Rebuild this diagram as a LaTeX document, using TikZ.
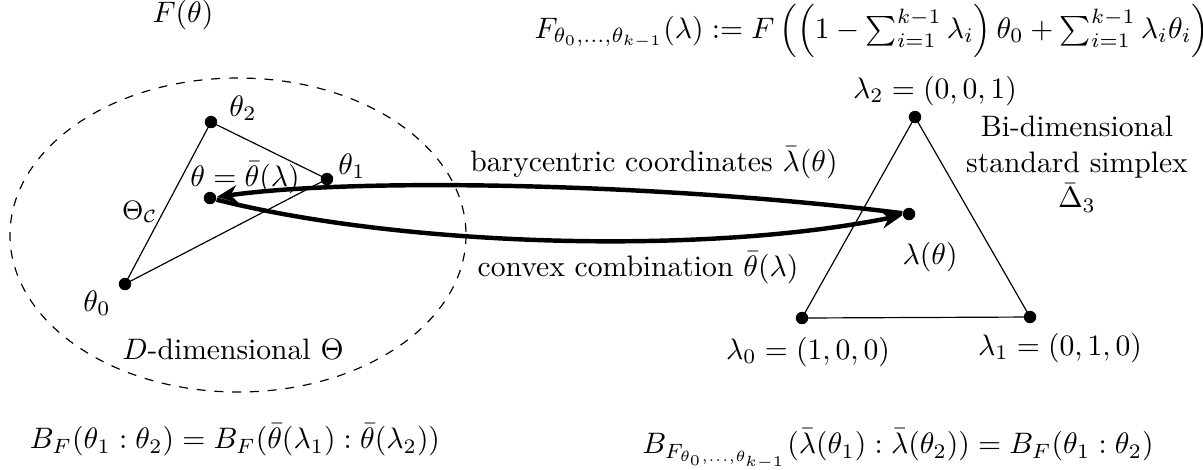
\documentclass[tikz,border=0pt]{standalone}
\usetikzlibrary{arrows.meta}
\begin{document}
\begin{tikzpicture}[x=0.3378pt,y=-0.3378pt,
  dot/.style={circle,fill=black,inner sep=0pt,minimum size=4.2pt},
  lbl/.style={inner sep=0pt},
  edge/.style={line width=0.4pt},
  arr/.style={line width=1.5pt,-{Stealth[length=7pt,width=6pt]}}]
\useasboundingbox (0,0) rectangle (1203,469);
% ellipse
\draw[dashed] (238,235) ellipse [x radius=228, y radius=157];
% left dots
\node[dot] (t0) at (125,284) {};
\node[dot] (t1) at (327,179) {};
\node[dot] (t2) at (211,122) {};
\node[dot] (th) at (210,198) {};
\draw[edge] (t0.center) -- (t2.center) -- (t1.center) -- (t0.center);
% right dots
\node[dot] (l0) at (802,318) {};
\node[dot] (l1) at (1030,317) {};
\node[dot] (l2) at (915,117) {};
\node[dot] (lam) at (909,214) {};
\draw[edge] (l0.center) -- (l2.center) -- (l1.center) -- (l0.center);
% arrows
\draw[arr] (lam) .. controls (650,182) and (350,178) .. (th);
\draw[arr] (th) .. controls (400,246) and (700,256) .. (lam);
% labels
\node[lbl] (Ft) at (183,15) {$F(\theta)$};
\node[lbl] (Fl) at (872,31) {$F_{\theta_0,\dots,\theta_{k-1}}(\lambda) := F\left(\left(1-\sum_{i=1}^{k-1}\lambda_i\right)\theta_0+\sum_{i=1}^{k-1}\lambda_i\theta_i\right)$};
\node[lbl] (t2l) at (243,108) {$\theta_2$};
\node[lbl] (t1l) at (352,166) {$\theta_1$};
\node[lbl] (t0l) at (97,303) {$\theta_0$};
\node[lbl] (thl) at (245,178) {$\theta=\bar\theta(\lambda)$};
\node[lbl] (TC) at (140,212) {\small$\Theta_{\mathcal C}$};
\node[lbl] (DD) at (233,349) {$D$-dimensional $\Theta$};
\node[lbl] (bary) at (654,163) {barycentric coordinates $\bar\lambda(\theta)$};
\node[lbl] (conv) at (638,268) {convex combination $\bar\theta(\lambda)$};
\node[lbl] (l2l) at (935,91) {$\lambda_2=(0,0,1)$};
\node[lbl] (l0l) at (808,352) {$\lambda_0=(1,0,0)$};
\node[lbl] (l1l) at (1060,348) {$\lambda_1=(0,1,0)$};
\node[lbl] (laml) at (930,257) {$\lambda(\theta)$};
\node[lbl,align=center] (simp) at (1077,164) {Bi-dimensional\\standard simplex\\$\bar\Delta_3$};
\node[lbl] (BL) at (235,440) {$B_F(\theta_1:\theta_2)=B_F(\bar\theta(\lambda_1):\bar\theta(\lambda_2))$};
\node[lbl] (BR) at (898,449) {$B_{F_{\theta_0,\dots,\theta_{k-1}}}(\bar\lambda(\theta_1):\bar\lambda(\theta_2))=B_F(\theta_1:\theta_2)$};
\end{tikzpicture}
\end{document}
